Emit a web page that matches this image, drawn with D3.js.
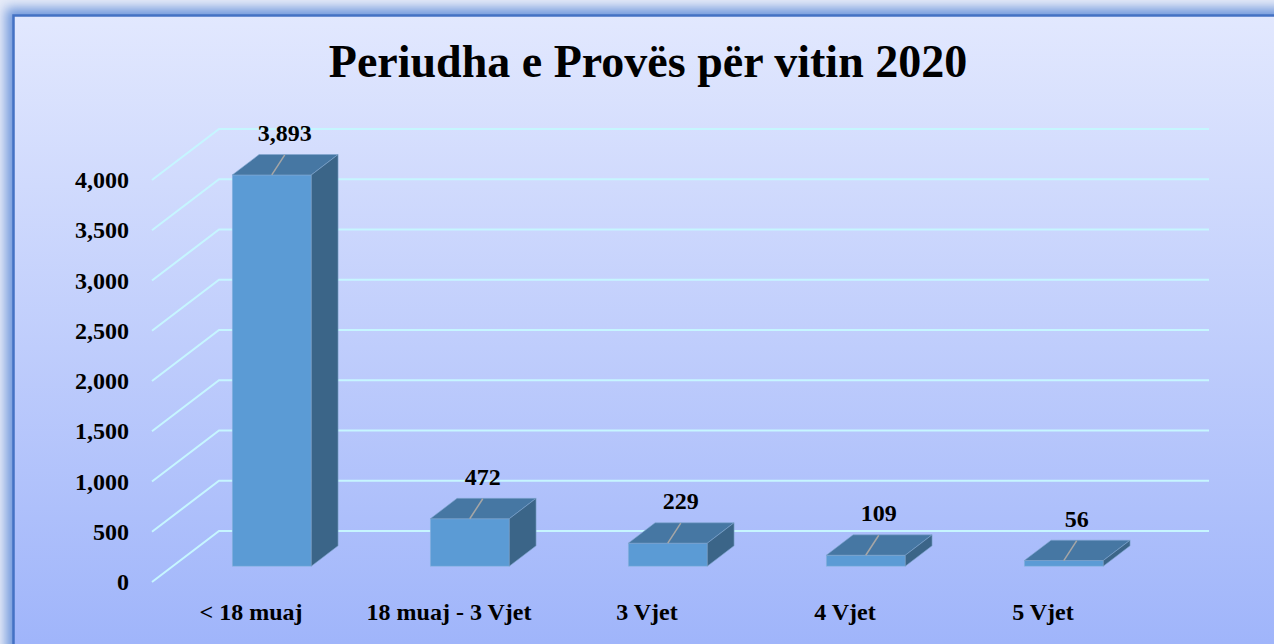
<html lang="en">
<head>
  <script src="https://d3js.org/d3.v7.min.js"></script>
  <style>
    body { margin: 0; background: #eef2fb; }
    svg text { font-family: "Liberation Serif", "Times New Roman", serif; font-weight: bold; fill: #000; }
  </style>
</head>
<body>
  <svg id="chart" width="1274" height="644"></svg>
  <script>
    // chart data
    const categories = ["< 18 muaj", "18 muaj - 3 Vjet", "3 Vjet", "4 Vjet", "5 Vjet"];
    const values = [3893, 472, 229, 109, 56];
    const yTicks = [0, 500, 1000, 1500, 2000, 2500, 3000, 3500, 4000];
    const title = "Periudha e Provës për vitin 2020";

    const svg = d3.select("#chart");
    const width = +svg.attr("width");
    const height = +svg.attr("height");

    const defs = svg.append("defs");
    const bg = defs.append("linearGradient").attr("id", "plotbg")
      .attr("x1", 0).attr("y1", 0).attr("x2", 0).attr("y2", 1);
    bg.append("stop").attr("offset", "0%").attr("stop-color", "#e2e8fe");
    bg.append("stop").attr("offset", "100%").attr("stop-color", "#9cb2fa");

    defs.append("filter").attr("id", "glow")
      .attr("x", "-10%").attr("y", "-10%").attr("width", "120%").attr("height", "120%")
      .append("feGaussianBlur").attr("stdDeviation", 6);

    // outer glow + frame
    svg.append("rect").attr("width", width).attr("height", height).attr("fill", "#e6ebf8");
    svg.append("rect")
      .attr("x", 6).attr("y", 8).attr("width", width + 40).attr("height", height + 40)
      .attr("fill", "#7097dc").attr("filter", "url(#glow)");
    svg.append("rect")
      .attr("x", 13.5).attr("y", 15.5).attr("width", width + 20).attr("height", height + 20)
      .attr("fill", "url(#plotbg)")
      .attr("stroke", "#4472c4").attr("stroke-width", 2.5);

    // 3d geometry
    const depth = { dx: 67, dy: -51 };
    const z0 = 0.31, z1 = 0.71;

    const x = d3.scaleBand()
      .domain(categories)
      .range([152, 1142])
      .paddingInner(0.601)
      .paddingOuter(0.3005);

    const y = d3.scaleLinear().domain([0, 4000]).range([582, 180]);

    // title
    svg.append("text")
      .attr("x", 648).attr("y", 77)
      .attr("text-anchor", "middle")
      .style("font-size", "46px")
      .text(title);

    // gridlines (side wall diagonal + back wall)
    const grid = svg.append("g")
      .attr("fill", "none")
      .attr("stroke", "#c6f6ff")
      .attr("stroke-width", 2);
    grid.selectAll("path")
      .data(yTicks)
      .enter()
      .append("path")
      .attr("d", d => {
        const yf = y(d);
        return "M" + 152 + "," + yf +
               "L" + (152 + depth.dx) + "," + (yf + depth.dy) +
               "L" + (1142 + depth.dx) + "," + (yf + depth.dy);
      });

    // y axis labels
    svg.append("g")
      .selectAll("text")
      .data(yTicks)
      .enter()
      .append("text")
      .attr("x", 129)
      .attr("y", d => y(d))
      .attr("dy", "0.34em")
      .attr("text-anchor", "end")
      .style("font-size", "24px")
      .text(d3.format(","));

    // bars
    const bw = x.bandwidth();
    const ddx = depth.dx * (z1 - z0), ddy = depth.dy * (z1 - z0);
    const bars = svg.append("g")
      .selectAll("g")
      .data(categories)
      .enter()
      .append("g");

    function geom(c, i) {
      const x0 = x(c) + depth.dx * z0;
      const yb = y(0) + depth.dy * z0;
      const yt = y(values[i]) + depth.dy * z0;
      return { x0, yb, yt };
    }

    bars.append("rect")
      .attr("x", (c, i) => geom(c, i).x0)
      .attr("y", (c, i) => geom(c, i).yt)
      .attr("width", bw)
      .attr("height", (c, i) => geom(c, i).yb - geom(c, i).yt)
      .attr("fill", "#5b9bd5")
      .attr("stroke", "#8db4e0").attr("stroke-width", 0.6);

    bars.append("path")
      .attr("d", (c, i) => {
        const g = geom(c, i);
        return "M" + g.x0 + "," + g.yt +
               "L" + (g.x0 + bw) + "," + g.yt +
               "L" + (g.x0 + bw + ddx) + "," + (g.yt + ddy) +
               "L" + (g.x0 + ddx) + "," + (g.yt + ddy) + "Z";
      })
      .attr("fill", "#4677a3")
      .attr("stroke", "#7fa6cf").attr("stroke-width", 0.6);

    bars.append("path")
      .attr("d", (c, i) => {
        const g = geom(c, i);
        return "M" + (g.x0 + bw) + "," + g.yt +
               "L" + (g.x0 + bw + ddx) + "," + (g.yt + ddy) +
               "L" + (g.x0 + bw + ddx) + "," + (g.yb + ddy) +
               "L" + (g.x0 + bw) + "," + g.yb + "Z";
      })
      .attr("fill", "#3b6588")
      .attr("stroke", "#7fa6cf").attr("stroke-width", 0.6);

    // value labels with leader lines
    bars.append("line")
      .attr("x1", (c, i) => geom(c, i).x0 + bw / 2)
      .attr("y1", (c, i) => geom(c, i).yt)
      .attr("x2", (c, i) => geom(c, i).x0 + bw / 2 + 13)
      .attr("y2", (c, i) => geom(c, i).yt - 20)
      .attr("stroke", "#a6a6a6")
      .attr("stroke-width", 1.5);

    bars.append("text")
      .attr("x", (c, i) => geom(c, i).x0 + bw / 2 + 13)
      .attr("y", (c, i) => geom(c, i).yt - 34)
      .attr("text-anchor", "middle")
      .style("font-size", "24px")
      .text((c, i) => d3.format(",")(values[i]));

    // category labels
    svg.append("g")
      .selectAll("text")
      .data(categories)
      .enter()
      .append("text")
      .attr("x", d => x(d) + bw / 2)
      .attr("y", 620)
      .attr("text-anchor", "middle")
      .style("font-size", "24px")
      .text(d => d);
  </script>
</body>
</html>
